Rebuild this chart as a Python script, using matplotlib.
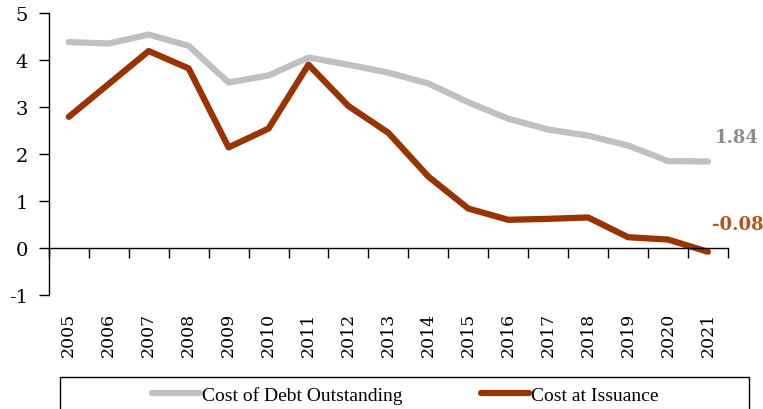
import matplotlib
matplotlib.use("Agg")
import matplotlib.pyplot as plt
from matplotlib.patches import Rectangle
import numpy as np

plt.rcParams['axes.unicode_minus'] = False
plt.rcParams['font.family'] = ['DejaVu Serif']

years = [str(y) for y in range(2005, 2022)]
debt_outstanding = [4.38, 4.35, 4.54, 4.30, 3.52, 3.67, 4.05, 3.90, 3.73, 3.50,
                    3.10, 2.75, 2.52, 2.39, 2.18, 1.85, 1.84]
cost_issuance = [2.79, 3.49, 4.19, 3.82, 2.14, 2.54, 3.90, 3.02, 2.45, 1.52,
                 0.84, 0.60, 0.62, 0.65, 0.23, 0.18, -0.08]

gray = '#C0C0C0'
brown = '#993300'

fig = plt.figure(figsize=(7.63, 4.10), dpi=100)
ax = fig.add_axes([0.064, 0.278, 0.890, 0.688])

x = np.arange(len(years))
ax.plot(x, debt_outstanding, color=gray, lw=4.5, solid_capstyle='round',
        label='Cost of Debt Outstanding')
ax.plot(x, cost_issuance, color=brown, lw=4.5, solid_capstyle='round',
        label='Cost at Issuance')

ax.set_xlim(-0.5, len(years) - 0.5)
ax.set_ylim(-1, 5)
ax.set_yticks(range(-1, 6))
ax.tick_params(axis='y', labelsize=14, length=7, width=1, direction='out', pad=8)

# x axis line sits at zero, ticks between categories, labels at the bottom
ax.spines['top'].set_visible(False)
ax.spines['right'].set_visible(False)
ax.spines['bottom'].set_position(('data', 0))
ax.spines['left'].set_linewidth(1)
ax.spines['bottom'].set_linewidth(1)
ax.set_xticks(x)
ax.set_xticklabels(years, rotation=90, fontsize=12.5)
ax.tick_params(axis='x', which='major', length=0, pad=46)
ax.set_xticks(np.arange(-0.5, len(years)), minor=True)
ax.tick_params(axis='x', which='minor', length=7, width=1, direction='out')

ax.text(16.72, 2.36, '1.84', color='#8C8C8C', fontsize=13, fontweight='bold',
        ha='center', va='center')
ax.text(16.75, 0.5, '-0.08', color='#B4541A', fontsize=13, fontweight='bold',
        ha='center', va='center')

fig.patches.append(Rectangle((0.079, -0.05), 0.903, 0.128, transform=fig.transFigure,
                             fill=False, edgecolor='black', lw=1))
fig.legend(loc='center', bbox_to_anchor=(0.531, 0.035), ncol=2, frameon=False,
           prop={'family': 'Liberation Serif', 'size': 14}, handlelength=2.5,
           handletextpad=0.1, columnspacing=4)

fig.savefig('out.png', dpi=100)
